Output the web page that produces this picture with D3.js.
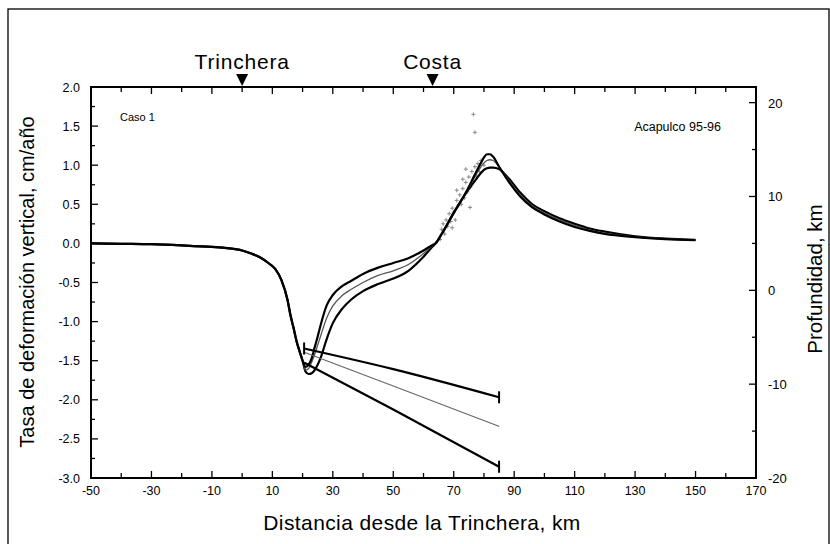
<!DOCTYPE html>
<html>
<head>
<meta charset="utf-8">
<script src="https://cdn.jsdelivr.net/npm/d3@7"></script>
<style>
  body { margin: 0; background: #fff; }
  svg { display: block; }
  text { font-family: "Liberation Sans", Arial, sans-serif; fill: #000; }
</style>
</head>
<body>
<svg id="chart" width="830" height="544"></svg>
<script>
// ---------------- DATA ----------------
const distance = [-50,-40,-30,-20,-10,-5,0,3,6,9,11,13,15,16,17,18,19,20,
  21,22,23,24,25,26,28,30,33,36,40,45,50,55,60,63,64,66,70,74,77,79,80,81,82,83,85,88,92,96,100,105,110,115,120,130,140,150];

// shared part of the three model curves (x = -50 ... 20)
const sharedRate = [0,-0.005,-0.01,-0.025,-0.045,-0.06,-0.09,-0.13,-0.18,-0.26,-0.33,-0.47,-0.72,-0.92,-1.08,-1.25,-1.38,-1.50];

// x = 21 ... 150
const rateA = [-1.58,-1.55,-1.47,-1.33,-1.19,-1.04,-0.79,-0.66,-0.55,-0.48,-0.39,-0.31,-0.25,-0.19,-0.09,-0.02,0.0,0.12,0.39,0.65,0.88,1.03,1.10,1.14,1.14,1.11,0.98,0.80,0.60,0.46,0.37,0.28,0.21,0.16,0.12,0.08,0.055,0.04];
const rateB = [-1.62,-1.60,-1.52,-1.42,-1.30,-1.18,-0.95,-0.80,-0.67,-0.59,-0.50,-0.41,-0.35,-0.27,-0.13,-0.03,0.0,0.12,0.39,0.65,0.85,0.98,1.03,1.06,1.07,1.06,0.98,0.82,0.62,0.48,0.39,0.30,0.23,0.17,0.13,0.085,0.06,0.045];
const rateC = [-1.64,-1.67,-1.66,-1.62,-1.55,-1.46,-1.22,-1.02,-0.84,-0.72,-0.61,-0.52,-0.45,-0.35,-0.17,-0.04,0.0,0.12,0.39,0.64,0.80,0.90,0.94,0.96,0.97,0.97,0.95,0.84,0.65,0.50,0.41,0.32,0.25,0.19,0.15,0.09,0.06,0.045];

// fault geometry (right axis, depth km)
const faultX = [20.5, 50, 85];
const faultUpper = [-6.2, -8.4, -11.4];
const faultMiddle = [-6.6, -10.2, -14.5];
const faultLower = [-7.7, -12.7, -18.8];

// observed uplift rates (Acapulco 95-96)
const obsX = [65.5,66,66.5,67,67.5,68,68.5,69,69.5,70,70.5,71,71.5,72,72.5,73,73.5,74,74.5,75,75.5,76,76.5,77,77.5,78,78.5,79,80,73,71,76.5,77,75.4,69.5,74];
const obsY = [0.05,0.18,0.25,0.12,0.30,0.22,0.38,0.28,0.45,0.40,0.30,0.55,0.48,0.62,0.50,0.70,0.58,0.78,0.66,0.85,0.72,0.92,0.80,0.98,0.86,1.02,0.92,1.06,1.00,0.82,0.68,1.65,1.42,0.46,0.20,0.95];

const xTicks = [-50,-30,-10,10,30,50,70,90,110,130,150,170];
const yTicks = [2.0,1.5,1.0,0.5,0.0,-0.5,-1.0,-1.5,-2.0,-2.5,-3.0];
const depthTicks = [20,10,0,-10,-20];

const markers = [{label: "Trinchera", x: 0}, {label: "Costa", x: 63}];

// ---------------- CHART ----------------
const svg = d3.select("#chart");
const L = 91, R = 756, T = 87, B = 478;

const x = d3.scaleLinear().domain([-50, 170]).range([L, R]);
const y = d3.scaleLinear().domain([-3, 2]).range([B, T]);
// right axis: -20 km at the bottom, 0 km level with -0.6 cm/yr
const yd = d3.scaleLinear().domain([-20, 21.667]).range([B, T]);

// frame
svg.append("rect").attr("x", 8).attr("y", 9).attr("width", 821).attr("height", 540)
  .attr("fill", "none").attr("stroke", "#000").attr("stroke-width", 1.3);

// axes frame
const g = svg.append("g");
g.append("rect").attr("x", L).attr("y", T).attr("width", R - L).attr("height", B - T)
  .attr("fill", "none").attr("stroke", "#000").attr("stroke-width", 2);

// x ticks (bottom & top, inward)
const xAll = d3.range(-50, 171, 10);
xAll.forEach(v => {
  const major = xTicks.includes(v);
  const len = major ? 7 : 5;
  g.append("line").attr("x1", x(v)).attr("x2", x(v)).attr("y1", B).attr("y2", B - len).attr("stroke", "#000").attr("stroke-width", 1.3);
  g.append("line").attr("x1", x(v)).attr("x2", x(v)).attr("y1", T).attr("y2", T + len).attr("stroke", "#000").attr("stroke-width", 1.3);
});
g.selectAll(".xl").data(xTicks).enter().append("text")
  .attr("x", d => x(d)).attr("y", B + 17).attr("text-anchor", "middle")
  .attr("font-size", 12.5).text(d => d);

// left y ticks
d3.range(-3, 2.01, 0.25).forEach(v => {
  const major = Math.abs(v * 2 - Math.round(v * 2)) < 1e-6;
  g.append("line").attr("x1", L).attr("x2", L + (major ? 7 : 4)).attr("y1", y(v)).attr("y2", y(v)).attr("stroke", "#000").attr("stroke-width", 1.3);
});
g.selectAll(".yl").data(yTicks).enter().append("text")
  .attr("x", L - 11).attr("y", d => y(d) + 4.5).attr("text-anchor", "end")
  .attr("font-size", 12.5).text(d => d.toFixed(1));

// right depth ticks
d3.range(-20, 21, 5).forEach(v => {
  const major = v % 10 === 0;
  g.append("line").attr("x1", R).attr("x2", R - (major ? 7 : 4)).attr("y1", yd(v)).attr("y2", yd(v)).attr("stroke", "#000").attr("stroke-width", 1.3);
});
g.selectAll(".dl").data(depthTicks).enter().append("text")
  .attr("x", R + 12).attr("y", d => yd(d) + 5).attr("text-anchor", "start")
  .attr("font-size", 13).text(d => d);

// axis titles
svg.append("text").attr("x", 422).attr("y", 530).attr("text-anchor", "middle")
  .attr("font-size", 21).attr("letter-spacing", 0.4).text("Distancia desde la Trinchera, km");
svg.append("text").attr("transform", "translate(34,282) rotate(-90)").attr("text-anchor", "middle")
  .attr("font-size", 20).text("Tasa de deformación vertical, cm/año");
svg.append("text").attr("transform", "translate(822,279) rotate(-90)").attr("text-anchor", "middle")
  .attr("font-size", 20.5).text("Profundidad, km");

// annotations
svg.append("text").attr("x", 120).attr("y", 121).attr("font-size", 11).text("Caso 1");
svg.append("text").attr("x", 721).attr("y", 131).attr("text-anchor", "end").attr("font-size", 12.5).text("Acapulco 95-96");

markers.forEach(m => {
  const cx = x(m.x);
  svg.append("text").attr("x", cx).attr("y", 69).attr("text-anchor", "middle").attr("font-size", 21)
    .attr("letter-spacing", 0.8).text(m.label);
  svg.append("path").attr("d", `M${cx - 6},${T - 13} L${cx + 6},${T - 13} L${cx},${T - 1} Z`).attr("fill", "#000");
});

// observations
const obs = obsX.map((d, i) => [d, obsY[i]]);
const og = svg.append("g");
obs.forEach(p => {
  const px = x(p[0]), py = y(p[1]);
  og.append("path").attr("d", `M${px - 2},${py} L${px + 2},${py} M${px},${py - 2} L${px},${py + 2}`)
    .attr("stroke", "#8a8a8a").attr("stroke-width", 1);
});

// model curves
const line = d3.line().x(d => x(d[0])).y(d => y(d[1])).curve(d3.curveMonotoneX);
const mk = arr => distance.map((d, i) => [d, i < sharedRate.length ? sharedRate[i] : arr[i - sharedRate.length]]);
svg.append("path").attr("d", line(mk(rateC))).attr("fill", "none").attr("stroke", "#000").attr("stroke-width", 2.2);
svg.append("path").attr("d", line(mk(rateB))).attr("fill", "none").attr("stroke", "#555").attr("stroke-width", 1.3);
svg.append("path").attr("d", line(mk(rateA))).attr("fill", "none").attr("stroke", "#000").attr("stroke-width", 2.2);

// fault lines
const fline = d3.line().x(d => x(d[0])).y(d => yd(d[1])).curve(d3.curveMonotoneX);
const fu = faultX.map((d, i) => [d, faultUpper[i]]);
const fm = faultX.map((d, i) => [d, faultMiddle[i]]);
const fl = faultX.map((d, i) => [d, faultLower[i]]);
svg.append("path").attr("d", fline(fu)).attr("fill", "none").attr("stroke", "#000").attr("stroke-width", 2.2);
svg.append("path").attr("d", fline(fm)).attr("fill", "none").attr("stroke", "#666").attr("stroke-width", 1.1);
svg.append("path").attr("d", fline(fl)).attr("fill", "none").attr("stroke", "#000").attr("stroke-width", 2.2);
// end caps
[fu[0], fu[fu.length - 1], fl[fl.length - 1]].forEach(p => {
  svg.append("line").attr("x1", x(p[0])).attr("x2", x(p[0])).attr("y1", yd(p[1]) - 6).attr("y2", yd(p[1]) + 6)
    .attr("stroke", "#000").attr("stroke-width", 2);
});
</script>
</body>
</html>
